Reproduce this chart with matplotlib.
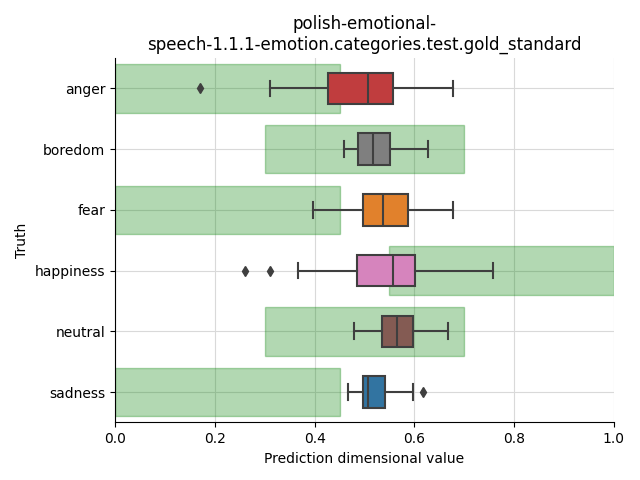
import matplotlib
matplotlib.use("Agg")
import matplotlib.pyplot as plt

# categories (top to bottom)
categories = ["anger", "boredom", "fear", "happiness", "neutral", "sadness"]

# box statistics
whislo = [0.310, 0.458, 0.397, 0.367, 0.478, 0.467]
q1 = [0.427, 0.487, 0.497, 0.485, 0.535, 0.497]
med = [0.507, 0.517, 0.537, 0.557, 0.566, 0.507]
q3 = [0.558, 0.552, 0.588, 0.601, 0.597, 0.542]
whishi = [0.677, 0.627, 0.677, 0.757, 0.667, 0.597]
fliers = [[0.170], [], [], [0.260, 0.310], [], [0.618]]

# gold standard ranges (green spans)
span_lo = [0.0, 0.3, 0.0, 0.55, 0.3, 0.0]
span_hi = [0.45, 0.7, 0.45, 1.0, 0.7, 0.45]

box_colors = ["#c03d3e", "#7f7f7f", "#e1812c", "#d684bd", "#845b53", "#3274a1"]

fig, ax = plt.subplots(figsize=(6.4, 4.8), dpi=100)
fig.subplots_adjust(left=0.18, right=0.959, top=0.879, bottom=0.12)

pos = list(range(len(categories)))

ax.grid(True, color="#d9d9d9", linewidth=0.8, zorder=0)
ax.set_axisbelow(True)

# green spans
ax.barh(pos, [h - l for l, h in zip(span_lo, span_hi)], left=span_lo, height=0.8,
        color="green", edgecolor="green", linewidth=1.0, alpha=0.3, zorder=1)

stats = []
for i, c in enumerate(categories):
    stats.append({"label": c, "whislo": whislo[i], "q1": q1[i], "med": med[i],
                  "q3": q3[i], "whishi": whishi[i], "fliers": fliers[i]})

lc = "#3f3f3f"
bp = ax.bxp(stats, positions=pos, vert=False, widths=0.52, patch_artist=True,
            boxprops=dict(edgecolor=lc, linewidth=1.5),
            medianprops=dict(color=lc, linewidth=1.5),
            whiskerprops=dict(color=lc, linewidth=1.5),
            capprops=dict(color=lc, linewidth=1.5),
            flierprops=dict(marker="d", markerfacecolor=lc, markeredgecolor=lc, markersize=5),
            capwidths=0.26, zorder=3)
for patch, col in zip(bp["boxes"], box_colors):
    patch.set_facecolor(col)

ax.set_yticks(pos)
ax.set_yticklabels(categories)
ax.set_ylim(len(categories) - 0.5, -0.5)
ax.set_xlim(0, 1)
ax.spines["top"].set_visible(False)
ax.spines["right"].set_visible(False)

ax.set_xlabel("Prediction dimensional value")
ax.set_ylabel("Truth")
ax.set_title("polish-emotional-\nspeech-1.1.1-emotion.categories.test.gold_standard")

plt.savefig("out.png", dpi=100)
